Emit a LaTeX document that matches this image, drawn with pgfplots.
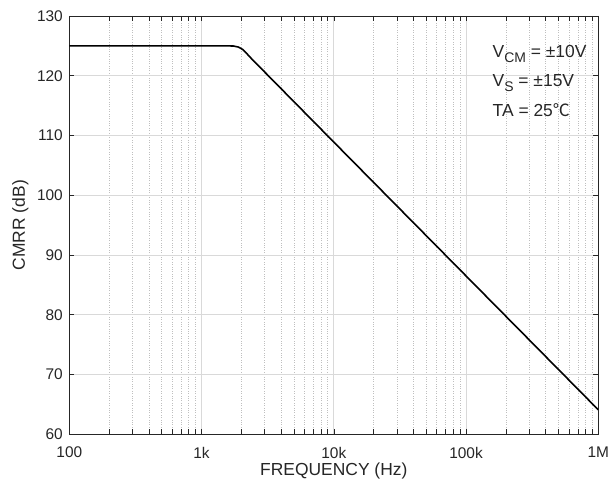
\documentclass[border=0pt]{standalone}
\usepackage{pgfplots}
\pgfplotsset{compat=1.18}
\usepackage{fontspec}
\setmainfont{Liberation Sans}
\newfontfamily\cjk{Noto Sans CJK SC}
\usetikzlibrary{calc}
\definecolor{axcol}{gray}{0.15}
\begin{document}
\begin{tikzpicture}
\begin{axis}[
  name=ax,
  xmode=log, log basis x=10,
  width=529bp, height=418.3bp, scale only axis,
  xmin=100, xmax=1e6, ymin=60, ymax=130,
  xtick={100,1000,10000,100000,1000000},
  xticklabels={100,1k,10k,100k,1M},
  minor xtick={200,300,400,500,600,700,800,900,2000,3000,4000,5000,6000,7000,8000,9000,20000,30000,40000,50000,60000,70000,80000,90000,200000,300000,400000,500000,600000,700000,800000,900000},
  ytick={60,70,80,90,100,110,120,130},
  xmajorgrids, ymajorgrids, xminorgrids,
  major grid style={solid, draw=black!15, line width=0.7bp},
  minor grid style={dotted, draw=black!25, line width=0.6bp},
  tick align=inside,
  major tick length=5bp, minor tick length=5bp,
  tick style={axcol, line width=0.6bp},
  axis line style={axcol, line width=0.7bp},
  /pgf/number format/assume math mode=true,
  tick label style={font=\fontsize{15.5}{18}\selectfont, text=axcol},
  xticklabel style={yshift=-9bp},
  yticklabel style={xshift=-3bp},
  xlabel={FREQUENCY (Hz)},
  ylabel={CMRR (dB)},
  label style={font=\fontsize{17.5}{20}\selectfont, text=axcol},
  xlabel style={at={(axis description cs:0.5,-0.088)}, anchor=center},
  ylabel style={at={(axis description cs:-0.0926,0.5)}, anchor=center},
]
\addplot[black, line width=1.6bp] coordinates {
  (100,125) (1000,125) (1600,125) (1750,124.97) (1900,124.8) (2050,124.4) (2200,123.7)
  (2400,122.8) (3200,120) (10000,108.9) (100000,86.5) (1000000,64.1)
};
\node[anchor=base west, inner sep=0, font=\fontsize{17.5}{20}\selectfont, text=axcol]
  at (axis description cs:0.800,0.8996) {V\raisebox{-0.5ex}{\fontsize{14}{16}\selectfont CM} = ±10V};
\node[anchor=base west, inner sep=0, font=\fontsize{17.5}{20}\selectfont, text=axcol]
  at (axis description cs:0.800,0.8303) {V\raisebox{-0.5ex}{\fontsize{14}{16}\selectfont S} = ±15V};
\node[anchor=base west, inner sep=0, font=\fontsize{17.5}{20}\selectfont, text=axcol]
  at (axis description cs:0.800,0.7586) {TA = 25{\cjk\fontsize{17}{18}\selectfont ℃}};
\end{axis}
\pgfresetboundingbox
\path[use as bounding box] ($(ax.south west)+(-69.3bp,-52.7bp)$) rectangle ($(ax.north east)+(10.7bp,16bp)$);
\end{tikzpicture}
\end{document}
